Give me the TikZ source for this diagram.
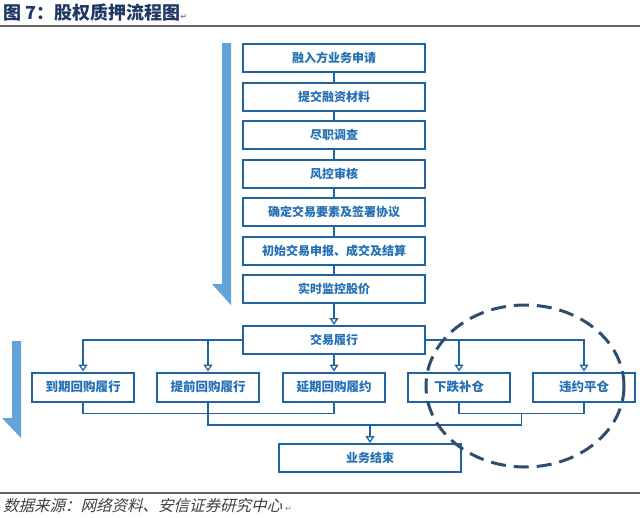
\documentclass[tikz,border=0pt]{standalone}
\usepackage{fontspec}
\newfontfamily\cjk{Noto Sans CJK SC}
\newfontfamily\cjkit{Noto Sans CJK SC}[FakeSlant=0.25]
\newfontfamily\symf{DejaVu Sans}
\usetikzlibrary{arrows.meta}
\definecolor{boxline}{HTML}{1F64A0}
\definecolor{boxtext}{HTML}{2470B5}
\definecolor{bigarrow}{HTML}{62A4DA}
\definecolor{navy}{HTML}{1F3864}
\definecolor{ellcol}{HTML}{2D4E6E}
\tikzset{
  stepbox/.style={draw=boxline, line width=2pt, fill=white, minimum width=182pt, minimum height=28pt,
    inner sep=0pt, text=boxtext, font=\cjk\bfseries\fontsize{12}{12}\selectfont},
  smallbox/.style={stepbox, minimum width=102pt, minimum height=29pt, font=\cjk\bfseries\fontsize{12.5}{12.5}\selectfont},
  link/.style={draw=boxline, line width=1.5pt},
  arr/.style={link, -{Triangle[open, width=9pt, length=7pt, line width=1.3pt]}},
  rule/.style={draw=gray!80!black, line width=1.6pt},
  bigarr/.style={fill=bigarrow},
  circ/.style={draw=ellcol, line width=3pt, dash pattern=on 15pt off 8pt}
}
\begin{document}
\begin{tikzpicture}[x=1pt,y=-1pt]
\path[use as bounding box, fill=white] (0,0) rectangle (640,517);

% title and rules
\node[anchor=west, inner sep=0pt, text=navy, font=\cjk\bfseries\fontsize{18}{18}\selectfont] (title) at (3,13)
  {图 7：股权质押流程图{\symf\fontsize{8}{8}\selectfont\color{gray}↵}};
\draw[rule] (0,26) -- (640,26);
\draw[rule] (0,493) -- (640,493);
\node[anchor=west, inner sep=0pt, text=black!75, font=\cjkit\fontsize{15.5}{15.5}\selectfont] (src) at (3,506)
  {数据来源：网络资料、安信证券研究中心\hspace{3pt}{\symf\fontsize{8}{8}\selectfont\color{gray}↵}};

% big side arrows
\fill[bigarr] (222,43) -- (231,43) -- (231,305) -- (212,284) -- (222,284) -- cycle;
\fill[bigarr] (12,341) -- (21,341) -- (21,438) -- (2,418) -- (12,418) -- cycle;

% main column
\node[stepbox] (m1) at (334,58) {融入方业务申请};
\node[stepbox] (m2) at (334,96.5) {提交融资材料};
\node[stepbox] (m3) at (334,135) {尽职调查};
\node[stepbox] (m4) at (334,173.5) {风控审核};
\node[stepbox] (m5) at (334,212) {确定交易要素及签署协议};
\node[stepbox] (m6) at (334,250.5) {初始交易申报、成交及结算};
\node[stepbox] (m7) at (334,289) {实时监控股价};
\node[stepbox] (m8) at (334,340) {交易履行};

\draw[link] (m1) -- (m2);
\draw[link] (m2) -- (m3);
\draw[link] (m3) -- (m4);
\draw[link] (m4) -- (m5);
\draw[link] (m5) -- (m6);
\draw[link] (m6) -- (m7);
\draw[arr] (m7) -- (m8);

% second row
\node[smallbox] (r1) at (83,387) {到期回购履行};
\node[smallbox] (r2) at (208,387) {提前回购履行};
\node[smallbox] (r3) at (334,387) {延期回购履约};
\node[smallbox] (r4) at (459,387) {下跌补仓};
\node[smallbox] (r5) at (584,387) {违约平仓};

\draw[arr] (m8.west) -| (r1);
\draw[arr] (m8.west) -| (r2);
\draw[arr] (m8) -- (r3);
\draw[arr] (m8.east) -| (r4);
\draw[arr] (m8.east) -| (r5);

% end
\node[stepbox] (end) at (370,458) {业务结束};
\coordinate (jde) at (521.5,413);
\coordinate (jbot) at (521.5,425);
\coordinate (jm) at (370,425);

\draw[link] (r1.south) -- ++(0,11) -| (r3.south);
\draw[link] (r4.south) -- ++(0,11) -| (r5.south);
\draw[link] (r2.south) |- (jbot) -- (jde);
\draw[arr] (jm) -- (end);

% dashed ellipse
\draw[circ] (525,386) ellipse [x radius=99, y radius=81];
\end{tikzpicture}
\end{document}
